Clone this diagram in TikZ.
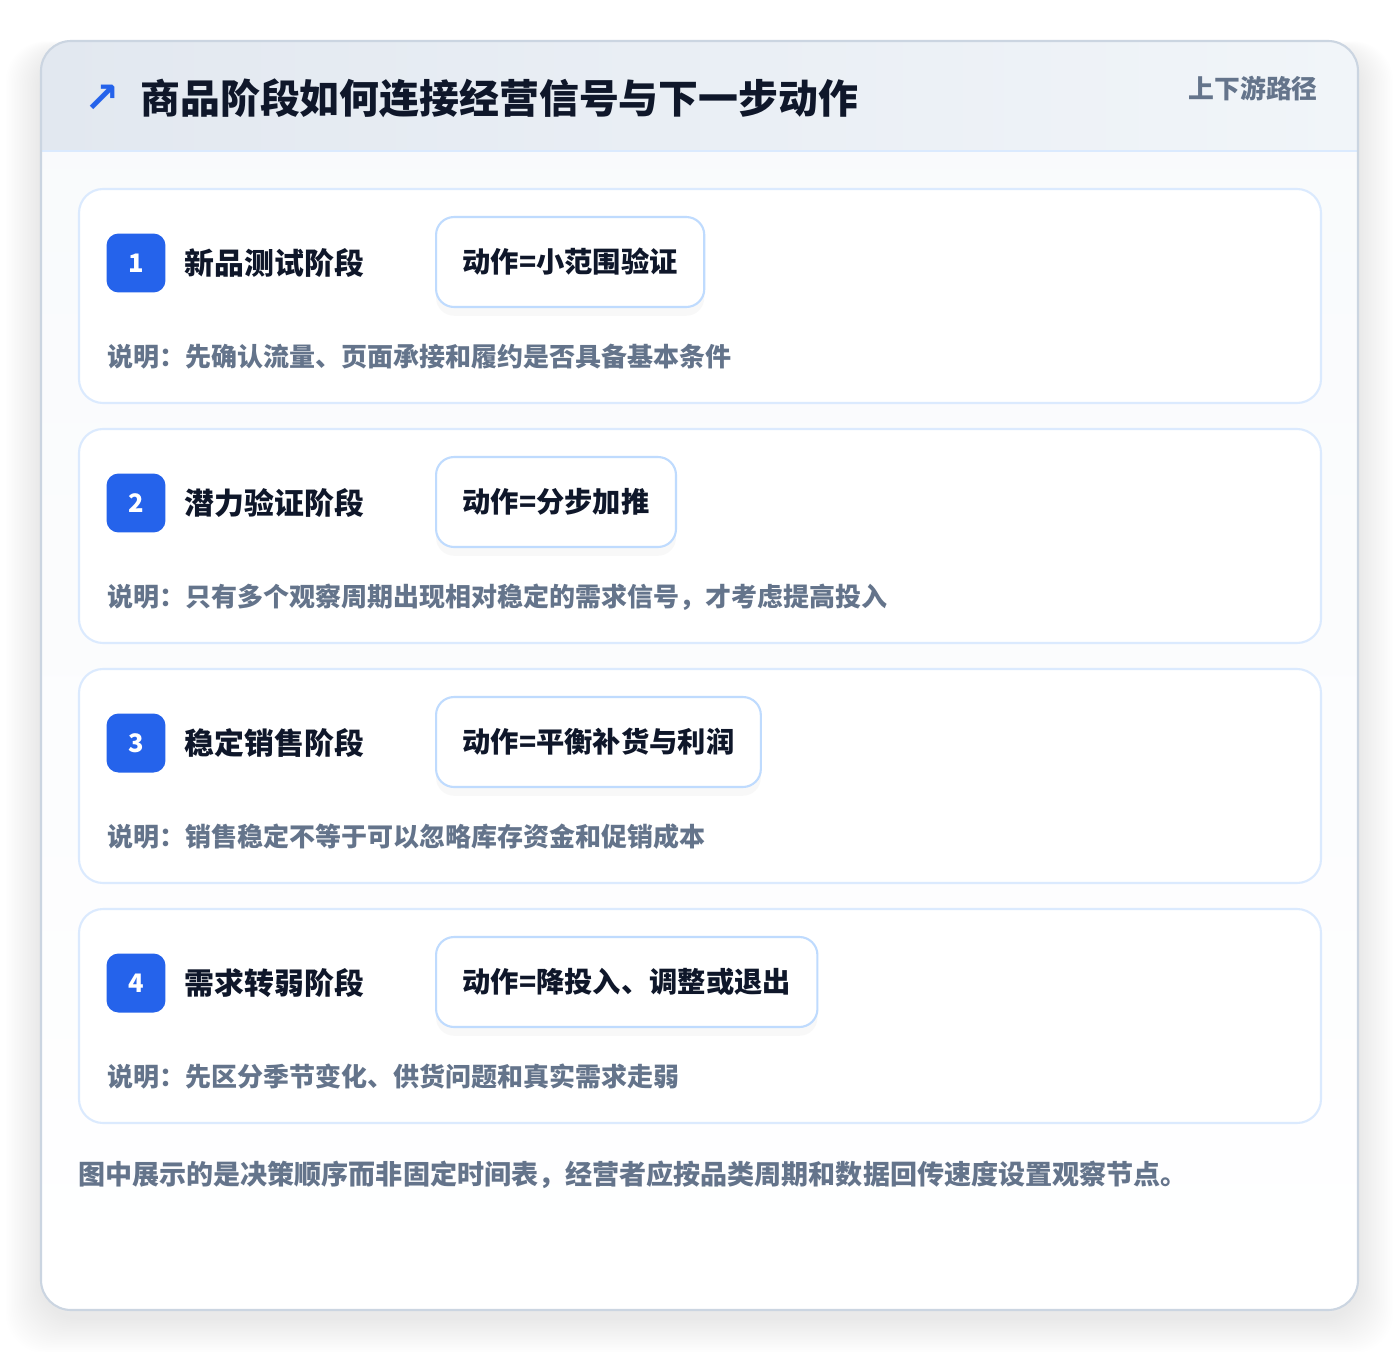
\documentclass[tikz,border=0pt]{standalone}
\usepackage{fontspec}
\setmainfont{Noto Sans CJK SC}
\newfontfamily\symfont{DejaVu Sans}
\usetikzlibrary{positioning, shadows}

\definecolor{inkdark}{HTML}{0F172A}
\definecolor{slate}{HTML}{64748B}
\definecolor{brandblue}{HTML}{2563EB}
\definecolor{cardline}{HTML}{DBEAFE}
\definecolor{actline}{HTML}{BFDBFE}
\definecolor{outerline}{HTML}{CBD5E1}
\definecolor{headleft}{HTML}{E2E8F0}
\definecolor{headright}{HTML}{F1F5F9}
\definecolor{bodytop}{HTML}{F8FAFC}

\begin{document}
\begin{tikzpicture}[x=0.02cm, y=-0.02cm,
  card/.style={draw=cardline, line width=1.2pt, fill=white, rounded corners=0.48cm},
  badge/.style={fill=brandblue, rounded corners=0.24cm, minimum size=1.18cm, inner sep=0pt,
    text=white, font=\fontsize{14.5}{16}\selectfont\bfseries},
  stagetitle/.style={anchor=west, inner sep=0pt, text=inkdark, font=\fontsize{17}{20}\selectfont\bfseries},
  actbox/.style={draw=actline, line width=1.2pt, fill=white, rounded corners=0.36cm,
    minimum height=1.8cm, inner xsep=0.53cm, anchor=west, text=inkdark,
    drop shadow={opacity=0.05, shadow xshift=0pt, shadow yshift=-5pt},
    font=\fontsize{16.1}{19}\selectfont\bfseries},
  note/.style={anchor=west, inner sep=0pt, text=slate, font=\fontsize{14.8}{18}\selectfont\bfseries}]

\useasboundingbox (0,0) rectangle (1400,1352);
\fill[white] (0,0) rectangle (1400,1352);

% soft shadow of the outer card
\foreach \k in {1,...,22}{
  \fill[black, opacity=0.0035, rounded corners=0.8cm]
    (41-1.6*\k,50-0.4*\k) rectangle (1358+1.6*\k,1318+1.6*\k);
}

% outer card, header band and rule
\shade[top color=bodytop, bottom color=white, rounded corners=0.6cm] (41,41) rectangle (1358,1310);
\begin{scope}
  \clip[rounded corners=0.6cm] (41,41) rectangle (1358,1310);
  \shade[left color=headleft, right color=headright] (41,41) rectangle (1358,151);
\end{scope}
\draw[cardline, line width=1.2pt] (41,151) -- (1358,151);
\draw[outerline, line width=1.2pt, rounded corners=0.6cm] (41,41) rectangle (1358,1310);

% header texts
\node[text=brandblue, inner sep=0pt, font=\symfont\bfseries\fontsize{24}{26}\selectfont] (icon) at (102,99) {↗};
\node[anchor=west, inner sep=0pt, text=inkdark, font=\fontsize{22.7}{26}\selectfont\bfseries]
  (title) at (140,98) {商品阶段如何连接经营信号与下一步动作};
\node[anchor=east, inner sep=0pt, text=slate, font=\fontsize{14.7}{17}\selectfont\bfseries]
  (tag) at (1318,89) {上下游路径};

% the four stages
\foreach \i/\stage/\act/\desc in {
  1/新品测试阶段/动作=小范围验证/说明：先确认流量、页面承接和履约是否具备基本条件,
  2/潜力验证阶段/动作=分步加推/说明：只有多个观察周期出现相对稳定的需求信号，才考虑提高投入,
  3/稳定销售阶段/动作=平衡补货与利润/说明：销售稳定不等于可以忽略库存资金和促销成本,
  4/需求转弱阶段/动作=降投入、调整或退出/说明：先区分季节变化、供货问题和真实需求走弱}{
  \pgfmathsetmacro{\ty}{189+240*(\i-1)}
  \draw[card] (79,\ty) rectangle (1321,\ty+214);
  \node[badge] (badge\i) at (136,\ty+74) {\i};
  \node[stagetitle, right=0.37cm of badge\i] (stage\i) {\stage};
  \node[actbox] (act\i) at (435,\ty+73) {\act};
  \node[note] (desc\i) at (107,\ty+168) {\desc};
}

% closing remark
\node[note, font=\fontsize{15.4}{18}\selectfont\bfseries] (remark) at (78,1175)
  {图中展示的是决策顺序而非固定时间表，经营者应按品类周期和数据回传速度设置观察节点。};
\end{tikzpicture}
\end{document}
